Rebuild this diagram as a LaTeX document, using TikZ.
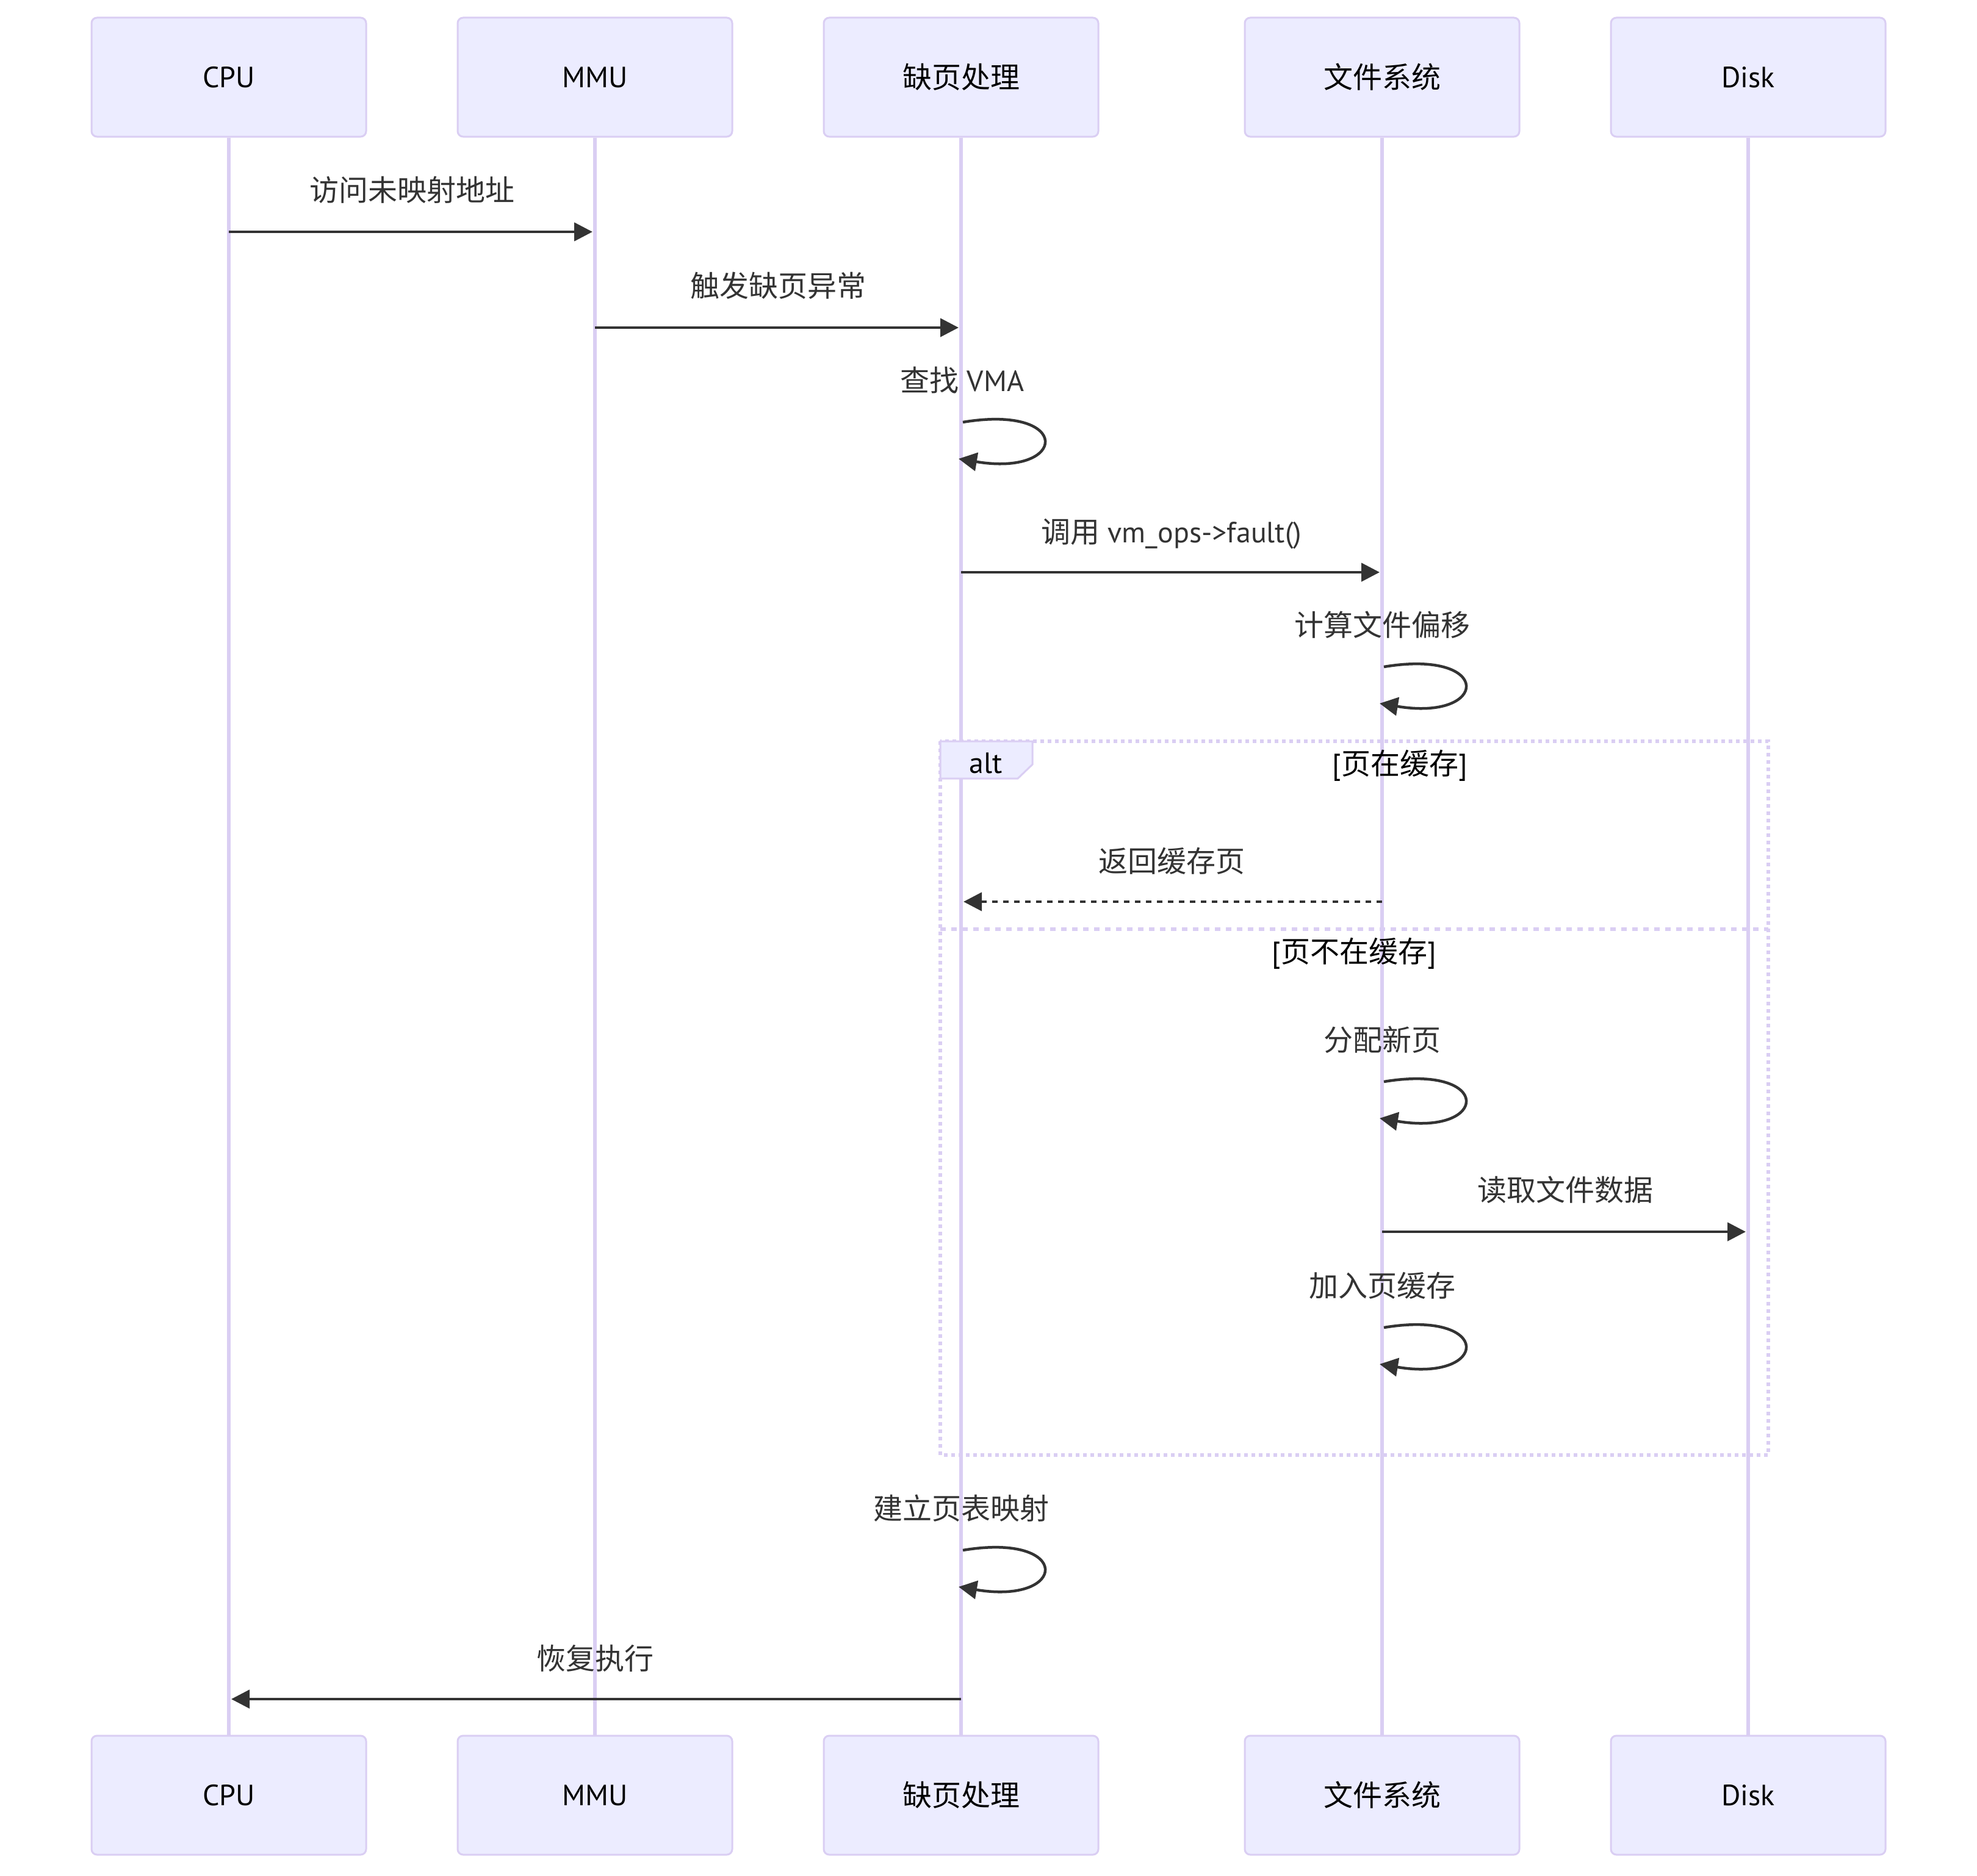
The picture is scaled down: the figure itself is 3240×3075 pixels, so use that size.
\documentclass[tikz,border=0pt]{standalone}
\usepackage{fontspec}
\setmainfont{PT Sans}
\newfontfamily\cjk{Noto Sans CJK SC}
\usetikzlibrary{arrows.meta}
\definecolor{lav}{HTML}{DACEF3}
\definecolor{actfill}{HTML}{ECECFF}
\definecolor{msg}{HTML}{333333}
\newcommand\mysz{\fontsize{48}{58}\selectfont}
\begin{document}
\begin{tikzpicture}[x=1pt,y=-1pt,
  actor/.style={draw=lav,line width=3pt,fill=actfill,rounded corners=9pt,minimum width=450pt,minimum height=195pt,inner sep=0pt,text=black,font=\mysz},
  life/.style={draw=lav,line width=6pt},
  msgtxt/.style={text=msg,font=\mysz,inner sep=0pt,anchor=base},
  condtxt/.style={text=black,font=\mysz,inner sep=0pt,anchor=base},
  msgarrow/.style={draw=msg,line width=4.5pt,-{Triangle[length=30pt,width=30pt]},shorten >=4pt},
  framestyle/.style={draw=lav,line width=6pt,dash pattern=on 6pt off 6pt},
  divstyle/.style={draw=lav,line width=6pt,dash pattern=on 9pt off 9pt}]
\useasboundingbox[fill=white] (0,0) rectangle (3240,3075);
% actors
\node[actor] (cpuT) at (375,126.5) {CPU};
\node[actor] (mmuT) at (975,126.5) {MMU};
\node[actor] (pfT) at (1575,126.5) {\cjk 缺页处理};
\node[actor] (fsT) at (2265,126.5) {\cjk 文件系统};
\node[actor] (diskT) at (2865,126.5) {Disk};
\node[actor] (cpuB) at (375,2942.5) {CPU};
\node[actor] (mmuB) at (975,2942.5) {MMU};
\node[actor] (pfB) at (1575,2942.5) {\cjk 缺页处理};
\node[actor] (fsB) at (2265,2942.5) {\cjk 文件系统};
\node[actor] (diskB) at (2865,2942.5) {Disk};
% lifelines
\foreach \a in {cpu,mmu,pf,fs,disk}{\draw[life] (\a T.south) -- (\a B.north);}
% alt frame
\draw[framestyle] (1541,1215) rectangle (2898,2385);
\draw[divstyle] (1541,1523) -- (2898,1523);
\draw[draw=lav,line width=3pt,fill=actfill] (1541,1215) -- (1692,1215) -- (1692,1253) -- (1668,1276) -- (1541,1276) -- cycle;
\node[condtxt] (altlbl) at (1616,1267) {alt};
\node[condtxt] (cond1) at (2294,1269) {[{\cjk 页在缓存}]};
\node[condtxt] (cond2) at (2219,1577) {[{\cjk 页不在缓存}]};
% messages
\node[msgtxt] (l1) at (675,329) {\cjk 访问未映射地址};
\draw[msgarrow] (cpuT |- 0,380) -- (mmuT |- 0,380);
\node[msgtxt] (l2) at (1275,486) {\cjk 触发缺页异常};
\draw[msgarrow] (mmuT |- 0,537) -- (pfT |- 0,537);
\node[msgtxt] (l3) at (1577,641) {{\cjk 查找} VMA};
\draw[msgarrow,shorten >=0pt] ([xshift=3pt]pfT.center |- 0,692) .. controls +(180,-30) and +(180,30) .. ([xshift=-4pt]pfT.center |- 0,752);
\node[msgtxt] (l4) at (1920,889) {{\cjk 调用} vm\_ops->fault()};
\draw[msgarrow] (pfT |- 0,938) -- (fsT |- 0,938);
\node[msgtxt] (l5) at (2265,1042) {\cjk 计算文件偏移};
\draw[msgarrow,shorten >=0pt] ([xshift=3pt]fsT.center |- 0,1093) .. controls +(180,-30) and +(180,30) .. ([xshift=-4pt]fsT.center |- 0,1153);
\node[msgtxt] (l6) at (1920,1429) {\cjk 返回缓存页};
\draw[msgarrow,dash pattern=on 9pt off 9pt] (fsT |- 0,1478) -- (pfT |- 0,1478);
\node[msgtxt] (l7) at (2265,1722) {\cjk 分配新页};
\draw[msgarrow,shorten >=0pt] ([xshift=3pt]fsT.center |- 0,1773) .. controls +(180,-30) and +(180,30) .. ([xshift=-4pt]fsT.center |- 0,1833);
\node[msgtxt] (l8) at (2565,1968) {\cjk 读取文件数据};
\draw[msgarrow] (fsT |- 0,2019) -- (diskT |- 0,2019);
\node[msgtxt] (l9) at (2265,2125) {\cjk 加入页缓存};
\draw[msgarrow,shorten >=0pt] ([xshift=3pt]fsT.center |- 0,2176) .. controls +(180,-30) and +(180,30) .. ([xshift=-4pt]fsT.center |- 0,2236);
\node[msgtxt] (l10) at (1575,2490) {\cjk 建立页表映射};
\draw[msgarrow,shorten >=0pt] ([xshift=3pt]pfT.center |- 0,2541) .. controls +(180,-30) and +(180,30) .. ([xshift=-4pt]pfT.center |- 0,2601);
\node[msgtxt] (l11) at (975,2736) {\cjk 恢复执行};
\draw[msgarrow] (pfT |- 0,2785) -- (cpuT |- 0,2785);
\end{tikzpicture}
\end{document}
